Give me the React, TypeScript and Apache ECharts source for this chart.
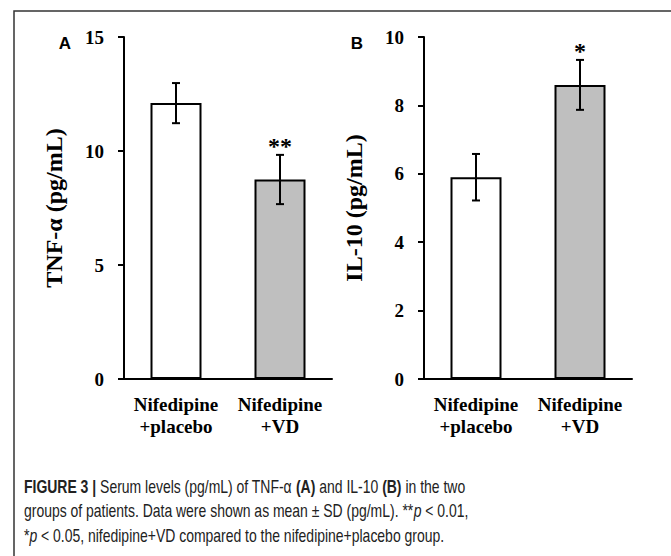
import React, { useEffect, useRef } from 'react';
import * as echarts from 'echarts';

const categories = ['Nifedipine\n+placebo', 'Nifedipine\n+VD'];
const barColors = ['#ffffff', '#bfbfbf'];

const tnfMean = [12.1, 8.75];
const tnfSD = [0.88, 1.08];
const tnfSig = ['', '**'];

const il10Mean = [5.9, 8.6];
const il10SD = [0.68, 0.73];
const il10Sig = ['', '*'];

const tnfAxis = { min: 0, max: 15, interval: 5, name: 'TNF-α (pg/mL)' };
const il10Axis = { min: 0, max: 10, interval: 2, name: 'IL-10 (pg/mL)' };

const captionLines = [
  '{b|FIGURE 3 |}{n| Serum levels (pg/mL) of TNF-α }{b|(A)}{n| and IL-10 }{b|(B)}{n| in the two}',
  '{n|groups of patients. Data were shown as mean ± SD (pg/mL). **}{i|p}{n| < 0.01,}',
  '{n|*}{i|p}{n| < 0.05, nifedipine+VD compared to the nifedipine+placebo group.}',
];

const SERIF = '"Liberation Serif", "Times New Roman", serif';
const SANS = '"Liberation Sans", Arial, sans-serif';

function yAxisFor(ax: any, gridIndex: number) {
  return {
    type: 'value',
    gridIndex,
    min: ax.min,
    max: ax.max,
    interval: ax.interval,
    name: ax.name,
    nameLocation: 'middle',
    nameGap: 58,
    nameTextStyle: { fontFamily: SERIF, fontWeight: 'bold', fontSize: 24, color: '#000' },
    axisLine: { show: true, lineStyle: { color: '#000', width: 2 } },
    axisTick: { show: true, inside: false, length: 6, lineStyle: { color: '#000', width: 2 } },
    splitLine: { show: false },
    axisLabel: { fontFamily: SERIF, fontWeight: 'bold', fontSize: 19, color: '#000', margin: 20 },
  };
}

function xAxisFor(gridIndex: number) {
  return {
    type: 'category',
    gridIndex,
    data: categories,
    axisLine: { show: true, lineStyle: { color: '#000', width: 2 } },
    axisTick: { show: false },
    axisLabel: {
      interval: 0,
      fontFamily: SERIF,
      fontWeight: 'bold',
      fontSize: 19,
      lineHeight: 22,
      color: '#000',
      margin: 14,
    },
  };
}

function barSeries(means: number[], idx: number) {
  return {
    type: 'bar',
    xAxisIndex: idx,
    yAxisIndex: idx,
    barWidth: 51,
    data: means.map((v, i) => ({
      value: v,
      itemStyle: { color: barColors[i], borderColor: '#000', borderWidth: 2 },
    })),
    z: 2,
  };
}

function errSeries(means: number[], sds: number[], sig: string[], idx: number) {
  return {
    type: 'custom',
    xAxisIndex: idx,
    yAxisIndex: idx,
    z: 5,
    encode: { x: 0, y: 1 },
    data: means.map((m, i) => [i, m, sds[i]]),
    renderItem: (params: any, api: any) => {
      const i = api.value(0);
      const m = api.value(1);
      const sd = api.value(2);
      const top = api.coord([i, m + sd]);
      const bot = api.coord([i, m - sd]);
      const hw = 4;
      const st = { stroke: '#000', lineWidth: 2 };
      const children: any[] = [
        { type: 'line', shape: { x1: top[0], y1: top[1], x2: bot[0], y2: bot[1] }, style: st },
        { type: 'line', shape: { x1: top[0] - hw, y1: top[1], x2: top[0] + hw, y2: top[1] }, style: st },
        { type: 'line', shape: { x1: bot[0] - hw, y1: bot[1], x2: bot[0] + hw, y2: bot[1] }, style: st },
      ];
      const s = sig[params.dataIndex];
      if (s) {
        children.push({
          type: 'text',
          x: top[0],
          y: top[1] - 9,
          style: {
            text: s,
            fontFamily: SERIF,
            fontWeight: 'bold',
            fontSize: 24,
            fill: '#000',
            align: 'center',
            verticalAlign: 'middle',
          },
        });
      }
      return { type: 'group', children };
    },
  };
}

export default function App() {
  const ref = useRef<HTMLDivElement>(null);
  useEffect(() => {
    if (!ref.current) return;
    const chart = echarts.init(ref.current, null, { renderer: 'svg' });
    const capScale = 0.755;
    const capFont = 18.5;
    const capColor = '#222';
    const option: any = {
      animation: false,
      backgroundColor: '#ffffff',
      grid: [
        { left: 124, top: 37, width: 208, height: 342 },
        { left: 424, top: 37, width: 208, height: 342 },
      ],
      xAxis: [xAxisFor(0), xAxisFor(1)],
      yAxis: [yAxisFor(tnfAxis, 0), yAxisFor(il10Axis, 1)],
      series: [
        barSeries(tnfMean, 0),
        errSeries(tnfMean, tnfSD, tnfSig, 0),
        barSeries(il10Mean, 1),
        errSeries(il10Mean, il10SD, il10Sig, 1),
      ],
      graphic: [
        {
          type: 'polyline',
          shape: { points: [[14, 560], [14, 11], [675, 11]] },
          style: { stroke: '#333', lineWidth: 1.5, fill: null },
        },
        {
          type: 'text',
          x: 65,
          y: 43,
          style: { text: 'A', fontFamily: SANS, fontWeight: 'bold', fontSize: 17, fill: '#000', align: 'center', verticalAlign: 'middle' },
        },
        {
          type: 'text',
          x: 357,
          y: 43,
          style: { text: 'B', fontFamily: SANS, fontWeight: 'bold', fontSize: 17, fill: '#000', align: 'center', verticalAlign: 'middle' },
        },
        ...captionLines.map((line, k) => ({
          type: 'text',
          x: 24,
          y: 486 + k * 24.5,
          scaleX: capScale,
          style: {
            text: line,
            fontFamily: SANS,
            fontSize: capFont,
            fill: capColor,
            align: 'left',
            verticalAlign: 'middle',
            rich: {
              n: { fontFamily: SANS, fontSize: capFont, fill: capColor, color: capColor },
              b: { fontFamily: SANS, fontSize: capFont, fontWeight: 'bold', fill: capColor, color: capColor },
              i: { fontFamily: SANS, fontSize: capFont, fontStyle: 'italic', fill: capColor, color: capColor },
            },
          },
        })),
      ],
    };
    chart.setOption(option);
    return () => chart.dispose();
  }, []);
  return (
    <div
      ref={ref}
      style={{ position: 'fixed', left: 0, top: 0, width: 671, height: 556, background: '#fff' }}
    />
  );
}
